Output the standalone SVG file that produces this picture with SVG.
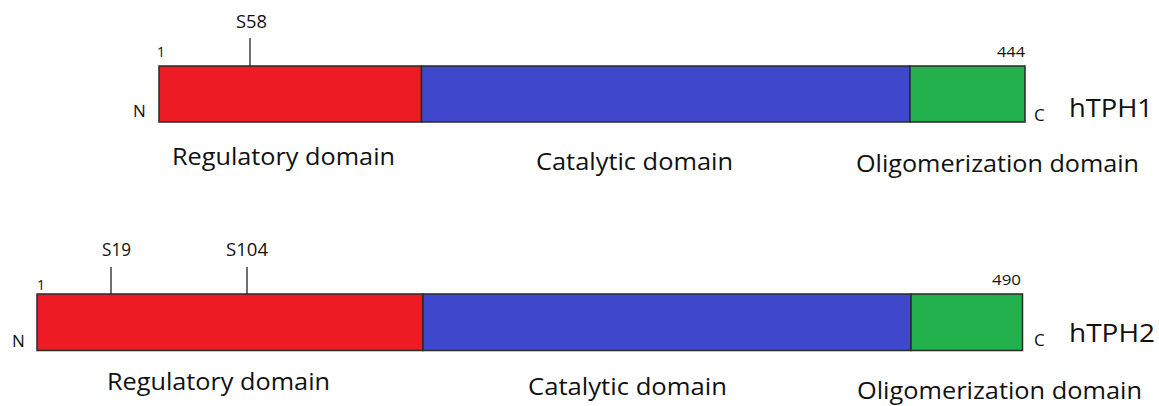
<svg xmlns="http://www.w3.org/2000/svg" width="1159" height="406" viewBox="0 0 1159 406">
<style>
text{font-family:"Open Sans","Noto Sans","Liberation Sans",sans-serif;fill:#111}
.lbl{font-size:23px}
.site{font-size:18px}
.num{font-size:14px}
.end{font-size:17px}
.name{font-size:26px}
.dom{stroke:#2a2a2a;stroke-width:1.5}
.red{fill:#ED1C24}.blue{fill:#3F48CC}.green{fill:#22B14C}
.tick{stroke:#222;stroke-width:1.3}
</style>
<rect width="1159" height="406" fill="#fff"/>
<g id="hTPH1">
<rect class="dom red" x="159" y="66" width="262.5" height="56"/>
<rect class="dom blue" x="421.5" y="66" width="488.5" height="56"/>
<rect class="dom green" x="910" y="66" width="115" height="56"/>
<text class="num" x="157" y="57">1</text>
<text class="num" x="997" y="57" textLength="28" lengthAdjust="spacingAndGlyphs">444</text>
<text class="end" x="133" y="117">N</text>
<text class="end" x="1034" y="121">C</text>
<text class="name" x="1069" y="117" textLength="84" lengthAdjust="spacingAndGlyphs">hTPH1</text>
<text class="site" x="236" y="28" textLength="31" lengthAdjust="spacingAndGlyphs">S58</text>
<text class="lbl" x="172" y="165" textLength="223" lengthAdjust="spacingAndGlyphs">Regulatory domain</text>
<text class="lbl" x="536" y="170" textLength="197" lengthAdjust="spacingAndGlyphs">Catalytic domain</text>
<text class="lbl" x="856" y="172" textLength="283" lengthAdjust="spacingAndGlyphs">Oligomerization domain</text>
</g>
<g id="hTPH2">
<rect class="dom red" x="37" y="294" width="386" height="56.5"/>
<rect class="dom blue" x="423" y="294" width="488" height="56.5"/>
<rect class="dom green" x="911" y="294" width="111.5" height="56.5"/>
<text class="num" x="37" y="290">1</text>
<text class="num" x="992" y="285" textLength="29" lengthAdjust="spacingAndGlyphs">490</text>
<text class="end" x="12" y="347">N</text>
<text class="end" x="1034" y="346">C</text>
<text class="name" x="1069" y="342" textLength="86" lengthAdjust="spacingAndGlyphs">hTPH2</text>
<text class="site" x="102" y="256" textLength="29" lengthAdjust="spacingAndGlyphs">S19</text>
<text class="site" x="226" y="256" textLength="42" lengthAdjust="spacingAndGlyphs">S104</text>
<text class="lbl" x="107" y="390" textLength="223" lengthAdjust="spacingAndGlyphs">Regulatory domain</text>
<text class="lbl" x="528" y="395" textLength="199" lengthAdjust="spacingAndGlyphs">Catalytic domain</text>
<text class="lbl" x="857" y="399" textLength="285" lengthAdjust="spacingAndGlyphs">Oligomerization domain</text>
</g>
<g id="connectors">
<line class="tick" x1="250" y1="38" x2="250" y2="66"/>
<line class="tick" x1="111" y1="267" x2="111" y2="294"/>
<line class="tick" x1="247" y1="267" x2="247" y2="294"/>
</g>
</svg>
